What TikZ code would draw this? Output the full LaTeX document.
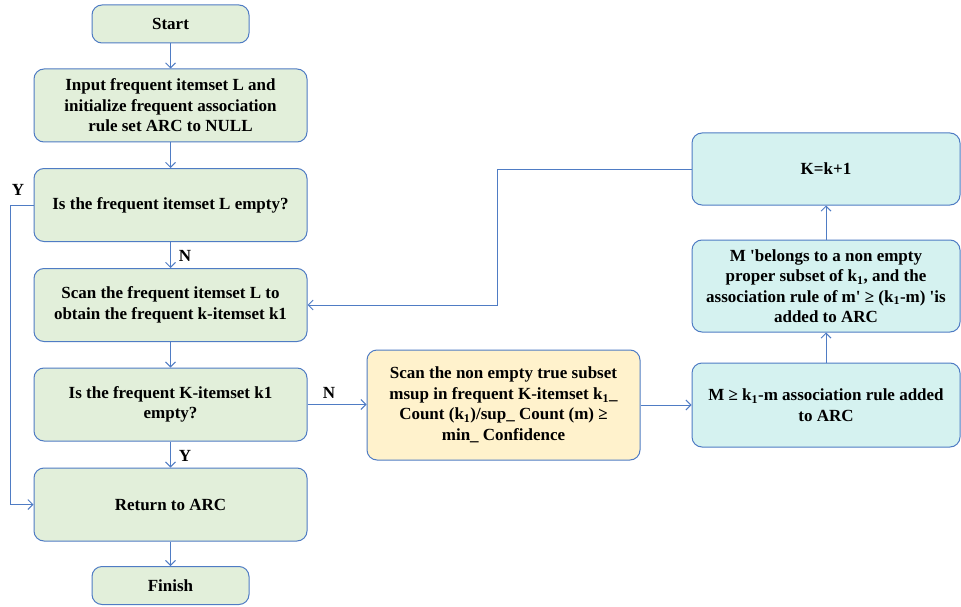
\documentclass[tikz,border=0pt]{standalone}
\usepackage{fontspec}
\setmainfont{Liberation Serif}
\usetikzlibrary{arrows.meta}
\definecolor{lineblue}{HTML}{4F7CC4}
\definecolor{boxgreen}{HTML}{E2EFDA}
\definecolor{boxyellow}{HTML}{FFF2CC}
\definecolor{boxcyan}{HTML}{D5F2F0}
\newcommand{\sq}{\textquotesingle}
\tikzset{
  box/.style={draw=lineblue, line width=1pt, rounded corners=10pt, align=center,
    font=\fontsize{17}{20.5}\selectfont\bfseries, inner sep=2pt},
  gbox/.style={box, fill=boxgreen, minimum width=273pt, minimum height=73pt},
  sbox/.style={box, fill=boxgreen, minimum width=157pt, minimum height=38pt},
  ybox/.style={box, fill=boxyellow, minimum width=273pt, minimum height=110pt},
  cbox/.style={box, fill=boxcyan, minimum width=268pt},
  conn/.style={draw=lineblue, line width=0.9pt, -{Straight Barb[length=5pt,width=10pt]}},
  lbl/.style={font=\fontsize{17}{18}\selectfont\bfseries, inner sep=0pt}
}
\begin{document}
\begin{tikzpicture}[x=1pt,y=-1pt]
\path[use as bounding box, fill=white] (0,0) rectangle (961,607);
\node[sbox] (start) at (170.5,24) {Start};
\node[gbox] (input) at (170.5,105.5) {Input frequent itemset L and\\initialize frequent association\\rule set ARC to NULL};
\node[gbox] (lempty) at (170.5,205) {Is the frequent itemset L empty?};
\node[gbox] (scanl) at (170.5,305) {Scan the frequent itemset L to\\obtain the frequent k-itemset k1};
\node[gbox] (kempty) at (170.5,404.5) {Is the frequent K-itemset k1\\empty?};
\node[gbox] (ret) at (170.5,504.5) {Return to ARC};
\node[sbox] (finish) at (170.5,585.5) {Finish};
\node[ybox] (scanm) at (503.5,405) {Scan the non empty true subset\\msup in frequent K-itemset k\textsubscript{1}\_\\Count (k\textsubscript{1})/sup\_ Count (m) ≥\\min\_ Confidence};
\node[cbox, minimum height=84pt] (rule) at (826,405) {M ≥ k\textsubscript{1}-m association rule added\\to ARC};
\node[cbox, minimum height=92pt] (belong) at (826,286) {M \sq belongs to a non empty\\proper subset of k\textsubscript{1}, and the\\association rule of m\sq{} ≥ (k\textsubscript{1}-m) \sq is\\added to ARC};
\node[cbox, minimum height=72pt] (inc) at (826,169) {K=k+1};
\coordinate (leftbend) at (10,205);
\coordinate (rightbend) at (497,169);
\draw[conn] (start) -- (input);
\draw[conn] (input) -- (lempty);
\draw[conn] (lempty) -- (scanl);
\draw[conn] (scanl) -- (kempty);
\draw[conn] (kempty) -- (ret);
\draw[conn] (ret) -- (finish);
\draw[conn] (lempty.west) -- (leftbend) |- (ret.west);
\draw[conn] (kempty.east) -- (scanm.west |- kempty.east);
\draw[conn] (scanm.east) -- (rule.west);
\draw[conn] (rule) -- (belong);
\draw[conn] (belong) -- (inc);
\draw[conn] (inc.west) -- (rightbend) |- (scanl.east);
\node[lbl] (ly1) at (18,190) {Y};
\node[lbl] (ln1) at (185,256) {N};
\node[lbl] (ly2) at (185,456) {Y};
\node[lbl] (ln2) at (329,393) {N};
\end{tikzpicture}
\end{document}
